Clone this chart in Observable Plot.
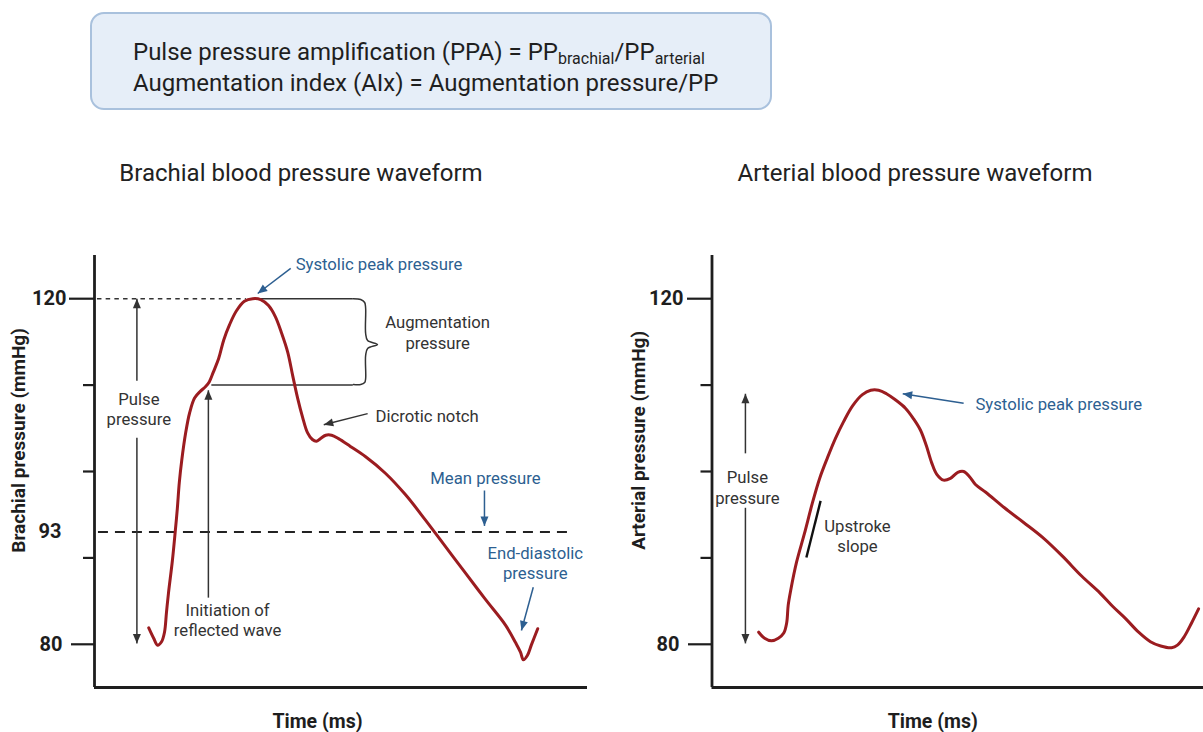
<!DOCTYPE html>
<html><head><meta charset="utf-8">
<script src="https://cdn.jsdelivr.net/npm/d3@7"></script>
<script src="https://cdn.jsdelivr.net/npm/@observablehq/plot@0.6"></script>
<style>
html,body{margin:0;padding:0;background:#fff;}
#root{position:relative;width:1203px;height:732px;overflow:hidden;font-family:Roboto,"Noto Sans",sans-serif;}
#box{position:absolute;left:90px;top:12px;width:682px;height:98px;box-sizing:border-box;border:2px solid #a9c1dd;border-radius:14px;background:#e6eef8;padding:22.5px 0 0 41px;font-size:24px;line-height:31px;color:#1f1f1f;}
#box sub{font-size:16px;vertical-align:-4px;line-height:0}
.title{position:absolute;top:158px;font-size:24px;color:#222;transform:translateX(-50%);white-space:nowrap;line-height:30px}
.plot{position:absolute;top:200px}
</style></head>
<body><div id="root">
<div id="box"><div>Pulse pressure amplification (PPA) = PP<sub>brachial</sub>/PP<sub>arterial</sub></div><div>Augmentation index (AIx) = Augmentation pressure/PP</div></div>
<div class="title" style="left:301px">Brachial blood pressure waveform</div>
<div class="title" style="left:915px">Arterial blood pressure waveform</div>
<div class="plot" id="left" style="left:0px;width:601px"></div>
<div class="plot" id="right" style="left:600px;width:603px"></div>
</div>
<script>
// ---- data ----
const brachialTime = [110,120,128,136,142,146,150,158,164,168,172,177,185,193,203,215,225,233,241,252,262,274,288,304,321,337,353,367,379,392,402,412,422,432,442,450,458,469,481,495,519,550,590,631,671,712,753,793,834,854,864,870,878,886,899];
const brachialPressure = [81.9,80.7,79.9,80.3,81.4,83.7,85.9,89.7,93.2,95.7,98.7,101.3,104.5,106.8,108.5,109.3,109.8,110.4,111.5,113.1,115.2,117.0,118.6,119.7,120.0,119.9,119.2,117.9,116.1,113.8,111.1,108.5,106.3,104.5,103.7,103.5,103.8,104.2,104.2,103.8,102.9,101.7,99.8,97.3,94.4,91.3,88.2,85.2,82.2,80.2,79.1,78.2,78.7,79.9,81.8];
const arterialTime = [95,107,121,135,146,152,155,160,172,188,204,219,235,251,268,286,306,323,339,355,373,394,410,424,436,447,457,471,485,500,512,524,536,557,595,634,672,713,752,790,815,841,868,892,913,935,947,961,976,990];
const arterialPressure = [81.4,80.7,80.4,80.7,81.3,82.5,84.5,86.2,89.5,92.8,96.3,99.2,101.6,103.8,105.8,107.6,108.9,109.4,109.4,109.0,108.3,107.3,106.1,104.8,103.0,101.0,99.7,99.0,99.2,99.9,100.0,99.4,98.5,97.6,95.8,94.1,92.4,90.2,87.9,85.9,84.4,83.0,81.4,80.3,79.8,79.6,79.9,80.9,82.5,84.1];
const labeledTicks = [80, 120];
const minorTicks = [90, 100, 110];
const meanPressure = 93;
const systolicPeak = 120;
const reflectedWavePressure = 110;

// annotation anchors (time ms, pressure mmHg)
const leftArrowsDark = [
  {x1: 86, y1: 110.5, x2: 86, y2: 120.0},
  {x1: 86, y1: 103.9, x2: 86, y2: 80.1},
  {x1: 231, y1: 85.4, x2: 231, y2: 109.4},
  {x1: 554, y1: 106.7, x2: 465, y2: 105.4}
];
const leftArrowsBlue = [
  {x1: 398, y1: 123.5, x2: 331, y2: 120.6},
  {x1: 791, y1: 97.8, x2: 791, y2: 93.7},
  {x1: 890, y1: 86.6, x2: 866, y2: 81.6}
];
const augmentationLines = [
  {x1: 329, x2: 525, y: systolicPeak},
  {x1: 238, x2: 525, y: reflectedWavePressure}
];
const peakDashed = [{x1: 6, x2: 308, y: systolicPeak}];
const meanDashed = [{x1: 8, x2: 964, y: meanPressure}];
const braceTime = [525,540,548,550,550,554,574,554,550,550,548,540,525];
const bracePressure = [120.0,119.9,119.56,118.87,115.97,115.16,114.7,114.24,113.43,110.76,110.3,110.07,110.07];
const leftLabels = [
  {x: 90, y: 107.3, text: "Pulse\npressure", anchor: "middle", blue: false},
  {x: 270, y: 82.9, text: "Initiation of\nreflected wave", anchor: "middle", blue: false},
  {x: 408, y: 124.1, text: "Systolic peak pressure", anchor: "start", blue: true},
  {x: 696, y: 116.15, text: "Augmentation\npressure", anchor: "middle", blue: false},
  {x: 570, y: 106.5, text: "Dicrotic notch", anchor: "start", blue: false},
  {x: 793, y: 99.3, text: "Mean pressure", anchor: "middle", blue: true},
  {x: 894, y: 89.5, text: "End-diastolic\npressure", anchor: "middle", blue: true}
];
const leftYTitle = [{x: -154, y: 103.6, text: "Brachial pressure (mmHg)"}];
const rightArrowsDark = [
  {x1: 68, y1: 102.1, x2: 68, y2: 109.0},
  {x1: 68, y1: 95.8, x2: 68, y2: 80.1}
];
const rightArrowsBlue = [
  {x1: 512, y1: 107.9, x2: 388, y2: 109.0}
];
const upstrokeLine = [{x1: 221, y1: 96.6, x2: 192, y2: 90.05}];
const rightLabels = [
  {x: 72, y: 98.2, text: "Pulse\npressure", anchor: "middle", blue: false},
  {x: 536, y: 107.9, text: "Systolic peak pressure", anchor: "start", blue: true},
  {x: 296, y: 92.6, text: "Upstroke\nslope", anchor: "middle", blue: false}
];
const rightYTitle = [{x: -149.5, y: 103.6, text: "Arterial pressure (mmHg)"}];

// ---- styling ----
const RED = "#9b1c20", BLUE = "#2d5f91", DARK = "#333333", AXIS = "#1e1e1e";
const zip = (ts, ps) => ts.map((t, i) => ({t, p: ps[i]}));

function arrowHead(color) {
  const ns = "http://www.w3.org/2000/svg";
  const m = document.createElementNS(ns, "marker");
  m.setAttribute("viewBox", "-10 -5 10 10");
  m.setAttribute("markerWidth", 10);
  m.setAttribute("markerHeight", 10);
  m.setAttribute("markerUnits", "userSpaceOnUse");
  m.setAttribute("orient", "auto");
  m.setAttribute("refX", 0);
  m.setAttribute("refY", 0);
  const p = document.createElementNS(ns, "path");
  p.setAttribute("d", "M-9.5,-4L0,0L-9.5,4Z");
  p.setAttribute("fill", color);
  p.setAttribute("stroke", "none");
  m.appendChild(p);
  return m;
}

function labelMarks(labels) {
  const marks = [];
  for (const anchor of ["middle", "start"]) for (const blue of [false, true]) {
    const d = labels.filter(l => l.anchor === anchor && l.blue === blue);
    if (d.length) marks.push(Plot.text(d, {x: "x", y: "y", text: "text", textAnchor: anchor,
      fill: blue ? BLUE : DARK, fontSize: 16.7, lineHeight: 1.22}));
  }
  return marks;
}

function axisMarks(big120, big80) {
  return [
    Plot.axisY({ticks: [120], tickSize: big120[0], tickPadding: big120[1], tickFormat: d => d,
      fontSize: 20, fontWeight: "bold", color: AXIS, strokeWidth: 2.2, label: null}),
    Plot.axisY({ticks: [80], tickSize: big80[0], tickPadding: big80[1], tickFormat: d => d,
      fontSize: 20, fontWeight: "bold", color: AXIS, strokeWidth: 2.2, label: null}),
    Plot.axisY({ticks: minorTicks, tickSize: 11, tickFormat: () => "", color: AXIS, strokeWidth: 2.2, label: null}),
    Plot.ruleX([0], {stroke: AXIS, strokeWidth: 2.8}),
    Plot.ruleY([75], {stroke: AXIS, strokeWidth: 2.8})
  ];
}

const commonStyle = {fontFamily: "Roboto, 'Noto Sans', sans-serif", fontSize: "16px", overflow: "visible", background: "transparent"};

const left = Plot.plot({
  width: 601, height: 532, marginLeft: 94, marginRight: 14, marginTop: 55, marginBottom: 45,
  x: {domain: [0, 1000], axis: null},
  y: {domain: [75, 125]},
  style: commonStyle,
  marks: [
    ...axisMarks([25, 3], [23, 9]),
    Plot.axisY({ticks: [meanPressure], tickSize: 0, tickPadding: 33, tickFormat: d => d,
      fontSize: 20, fontWeight: "bold", color: AXIS, label: null}),
    Plot.ruleY(peakDashed, {x1: "x1", x2: "x2", y: "y", stroke: DARK, strokeWidth: 1.4, strokeDasharray: "4.5,4.2"}),
    Plot.ruleY(meanDashed, {x1: "x1", x2: "x2", y: "y", stroke: "#222", strokeWidth: 2.2, strokeDasharray: "10,7"}),
    Plot.ruleY(augmentationLines, {x1: "x1", x2: "x2", y: "y", stroke: DARK, strokeWidth: 1.5}),
    Plot.line(zip(braceTime, bracePressure), {x: "t", y: "p", curve: "catmull-rom", stroke: DARK, strokeWidth: 1.5}),
    Plot.link(leftArrowsDark, {x1: "x1", y1: "y1", x2: "x2", y2: "y2", stroke: DARK, strokeWidth: 1.5, markerEnd: arrowHead}),
    Plot.link(leftArrowsBlue, {x1: "x1", y1: "y1", x2: "x2", y2: "y2", stroke: BLUE, strokeWidth: 1.5, markerEnd: arrowHead}),
    Plot.line(zip(brachialTime, brachialPressure), {x: "t", y: "p", curve: "catmull-rom", stroke: RED, strokeWidth: 3, strokeLinejoin: "round", strokeLinecap: "round"}),
    ...labelMarks(leftLabels),
    Plot.text(["Time (ms)"], {frameAnchor: "bottom", dy: 40, dx: -23.5, fontWeight: "bold", fontSize: 19.5, fill: AXIS}),
    Plot.text(leftYTitle, {x: "x", y: "y", text: "text", rotate: -90, fontWeight: "bold", fontSize: 19, fill: AXIS})
  ]
});
document.getElementById("left").append(left);

const right = Plot.plot({
  width: 603, height: 532, marginLeft: 111.5, marginRight: 0, marginTop: 55, marginBottom: 45,
  x: {domain: [0, 1000], axis: null},
  y: {domain: [75, 125]},
  style: commonStyle,
  marks: [
    ...axisMarks([24.5, 4], [23.5, 9]),
    Plot.link(upstrokeLine, {x1: "x1", y1: "y1", x2: "x2", y2: "y2", stroke: "#111", strokeWidth: 2.4}),
    Plot.link(rightArrowsDark, {x1: "x1", y1: "y1", x2: "x2", y2: "y2", stroke: DARK, strokeWidth: 1.5, markerEnd: arrowHead}),
    Plot.link(rightArrowsBlue, {x1: "x1", y1: "y1", x2: "x2", y2: "y2", stroke: BLUE, strokeWidth: 1.5, markerEnd: arrowHead}),
    Plot.line(zip(arterialTime, arterialPressure), {x: "t", y: "p", curve: "catmull-rom", stroke: RED, strokeWidth: 3, strokeLinejoin: "round", strokeLinecap: "round"}),
    ...labelMarks(rightLabels),
    Plot.text(["Time (ms)"], {frameAnchor: "bottom", dy: 40, dx: -25, fontWeight: "bold", fontSize: 19.5, fill: AXIS}),
    Plot.text(rightYTitle, {x: "x", y: "y", text: "text", rotate: -90, fontWeight: "bold", fontSize: 19, fill: AXIS})
  ]
});
document.getElementById("right").append(right);
</script>
</body></html>
